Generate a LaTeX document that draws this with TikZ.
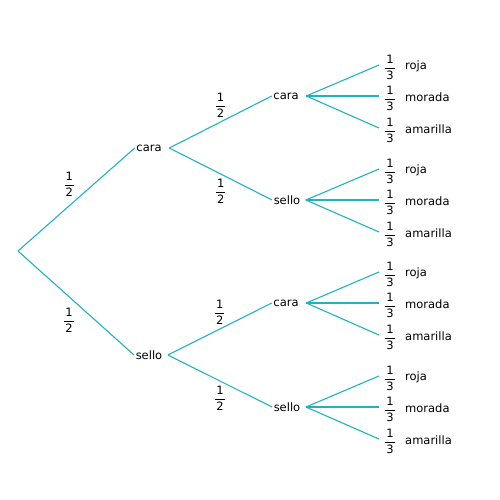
\documentclass[tikz,border=0pt]{standalone}
\usepackage{fontspec}
\setmainfont{DejaVu Sans}
\definecolor{branch}{HTML}{1FB3C2}
\newcommand{\fr}[2]{$\displaystyle\frac{\hbox{\kern1pt#1\kern1pt}}{\hbox{\kern1pt#2\kern1pt}}$}
\begin{document}
\begin{tikzpicture}[x=1pt,y=-1pt,
  lbl/.style={font=\fontsize{11.5}{13}\selectfont, inner xsep=1.5pt, inner ysep=1pt},
  prob/.style={font=\fontsize{11.5}{13}\selectfont, inner sep=0pt},
  leafprob/.style={font=\fontsize{11.5}{13}\selectfont, inner xsep=5pt, inner ysep=0pt},
  leafname/.style={font=\fontsize{11.5}{13}\selectfont, anchor=west, inner sep=0pt},
  br/.style={draw=branch, line width=1.1pt}]
\useasboundingbox (0,0) rectangle (500,500);
\coordinate (r) at (18,251);
% level 1
\node[lbl] (c) at (149,148) {cara};
\node[lbl] (s) at (149,355) {sello};
% level 2
\node[lbl] (cc) at (286,96) {cara};
\node[lbl] (cs) at (287,200) {sello};
\node[lbl] (sc) at (286,303) {cara};
\node[lbl] (ss) at (287,407) {sello};
% edges level 1
\draw[br] (r) -- node[prob, pos=0.5, xshift=-7, yshift=15] (pc) {\fr{1}{2}} (c.west);
\draw[br] (r) -- node[prob, pos=0.5, xshift=-7, yshift=-17] (ps) {\fr{1}{2}} (s.west);
% edges level 2
\draw[br] ([xshift=6]c.east) -- node[prob, midway, yshift=17] (pcc) {\fr{1}{2}} (cc.west);
\draw[br] ([xshift=6]c.east) -- node[prob, midway, yshift=-17] (pcs) {\fr{1}{2}} (cs.west);
\draw[br] ([xshift=4]s.east) -- node[prob, midway, yshift=17] (psc) {\fr{1}{2}} (sc.west);
\draw[br] ([xshift=4]s.east) -- node[prob, midway, yshift=-17] (pss) {\fr{1}{2}} (ss.west);
% leaves
\foreach \p/\y in {cc/96, cs/200, sc/303, ss/407}{
  \node[leafprob] (\p1) at (390,\y-31+2.5) {\fr{1}{3}};
  \node[leafprob] (\p2) at (390,\y+2.5) {\fr{1}{3}};
  \node[leafprob] (\p3) at (390,\y+32+2.5) {\fr{1}{3}};
  \node[leafname] (\p1n) at (405,\y-31+1.5) {roja};
  \node[leafname] (\p2n) at (405,\y+1.5) {morada};
  \node[leafname] (\p3n) at (405,\y+32+1.5) {amarilla};
}
\foreach \p/\dx in {cc/6, cs/4, sc/6, ss/4}{
  \foreach \k in {1,2,3}{
    \draw[br] ([xshift=\dx]\p.east) -- ([yshift=2.5]\p\k.west);
  }
}
\end{tikzpicture}
\end{document}
